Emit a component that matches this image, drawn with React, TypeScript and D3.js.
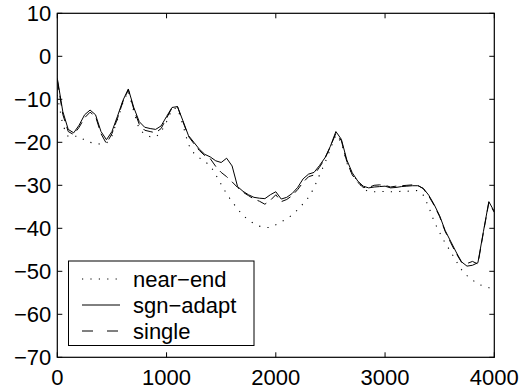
import React from "react";
import * as d3 from "d3";

const freqs = [
  0, 50, 100, 150, 200, 250, 300, 350, 400, 450, 500, 550, 600, 650, 700, 750, 800, 850, 900, 950,
  1000, 1050, 1100, 1150, 1200, 1250, 1300, 1350, 1400, 1450, 1500, 1550, 1600, 1650, 1700, 1750, 1800, 1850, 1900, 1950,
  2000, 2050, 2100, 2150, 2200, 2250, 2300, 2350, 2400, 2450, 2500, 2550, 2600, 2650, 2700, 2750, 2800, 2850, 2900, 2950,
  3000, 3050, 3100, 3150, 3200, 3250, 3300, 3350, 3400, 3450, 3500, 3550, 3600, 3650, 3700, 3750, 3800, 3850, 3900, 3950,
  4000,
];

const nearEnd = [
  -9.0, -16.0, -18.7, -18.6, -18.6, -19.5, -20.0, -20.3, -20.4, -20.2, -18.5, -14.8, -10.8, -8.0, -12.8, -17.0, -18.1, -18.7, -18.8, -17.6,
  -15.2, -12.3, -12.0, -16.0, -20.5, -22.5, -23.6, -24.5, -25.4, -27.5, -29.8, -32.0, -33.8, -35.5, -37.0, -38.1, -38.9, -39.5, -39.8, -39.8,
  -39.2, -38.5, -37.8, -36.9, -35.7, -34.3, -32.8, -30.6, -27.6, -24.8, -21.5, -18.3, -20.0, -24.8, -27.4, -29.0, -30.8, -31.5, -31.5, -31.5,
  -31.4, -31.5, -31.5, -31.4, -31.4, -31.3, -31.2, -32.3, -35.0, -38.5, -41.0, -43.4, -45.4, -47.6, -49.6, -51.0, -52.0, -53.0, -53.4, -53.8,
  -54.5,
];

const sgnAdapt = [
  -5.1, -12.8, -17.0, -17.8, -16.0, -13.6, -12.5, -13.6, -17.5, -19.4, -17.5, -14.0, -10.3, -7.6, -11.9, -15.2, -16.5, -16.8, -17.0, -16.2,
  -14.0, -11.9, -11.7, -15.0, -18.4, -20.0, -21.6, -22.8, -23.4, -24.3, -24.7, -23.7, -25.5, -30.3, -31.4, -32.2, -32.8, -33.0, -33.1, -32.2,
  -31.5, -33.2, -32.8, -31.9, -30.5, -28.5, -27.4, -27.0, -25.4, -23.6, -20.9, -17.5, -19.3, -24.1, -27.1, -29.0, -30.2, -30.6, -30.4, -30.3,
  -30.2, -30.6, -30.5, -30.3, -30.2, -30.1, -30.1, -30.7, -32.3, -34.5, -37.1, -40.5, -43.0, -45.5, -47.8, -48.8, -48.6, -48.0, -40.8, -33.8,
  -36.1,
];

const single = [
  -5.5, -13.5, -17.5, -18.2, -16.5, -14.3, -13.0, -14.0, -18.0, -20.3, -18.0, -14.5, -10.6, -7.8, -12.3, -15.8, -17.2, -17.5, -17.8, -16.8,
  -14.4, -12.0, -11.7, -15.2, -18.6, -20.3, -21.9, -23.1, -23.8, -25.6, -27.0, -28.0, -29.2, -30.5, -31.6, -32.4, -33.2, -33.7, -34.4, -33.5,
  -32.2, -33.8, -33.3, -32.4, -31.0, -29.3, -28.0, -27.6, -25.8, -23.8, -21.0, -17.9, -19.6, -24.5, -27.6, -29.3, -30.5, -30.5, -30.0, -29.9,
  -30.0, -30.4, -30.2, -30.1, -30.0, -29.9, -30.0, -30.8, -32.5, -34.7, -37.3, -40.7, -43.3, -45.8, -47.9, -48.2, -47.7, -48.3, -41.0, -34.0,
  -36.3,
];

const xTicks = [0, 1000, 2000, 3000, 4000];
const yTicks = [10, 0, -10, -20, -30, -40, -50, -60, -70];
const legendLabels = ["near\u2212end", "sgn\u2212adapt", "single"];

const W = 521;
const H = 392;
const FONT = "'Liberation Sans', Arial, Helvetica, sans-serif";

export default function App() {
  const x = d3.scaleLinear().domain([0, 4000]).range([57.3, 494.3]);
  const y = d3.scaleLinear().domain([-70, 10]).range([357.3, 13.3]);
  const [x0, x1] = x.range();
  const [y0, y1] = y.range();

  const line = d3
    .line<number>()
    .x((_, i) => x(freqs[i]))
    .y((d) => y(d));

  const series = [
    { data: nearEnd, dash: "1.2 7.2", width: 1.1 },
    { data: sgnAdapt, dash: undefined, width: 1 },
    { data: single, dash: "10 6", width: 1 },
  ];
  const legendDash = ["1.2 7.2", undefined, "11 14"];

  const tickLen = 5;
  const fs = 22;

  return (
    <svg
      width={W}
      height={H}
      style={{ position: "absolute", left: 0, top: 0, background: "#fff" }}
      fontFamily={FONT}
    >
      <rect x={0} y={0} width={W} height={H} fill="#fff" />
      <defs>
        <clipPath id="plotclip">
          <rect x={x0} y={y1} width={x1 - x0} height={y0 - y1} />
        </clipPath>
      </defs>
      <g clipPath="url(#plotclip)">
        {series.map((s, i) => (
          <path
            key={i}
            d={line(s.data) || ""}
            fill="none"
            stroke="#000"
            strokeWidth={s.width}
            strokeDasharray={s.dash}
          />
        ))}
      </g>
      {/* axes box */}
      <rect x={x0} y={y1} width={x1 - x0} height={y0 - y1} fill="none" stroke="#000" strokeWidth={1.2} />
      {/* x ticks */}
      {xTicks.map((t) => (
        <g key={"x" + t}>
          <line x1={x(t)} x2={x(t)} y1={y0} y2={y0 - tickLen} stroke="#000" />
          <line x1={x(t)} x2={x(t)} y1={y1} y2={y1 + tickLen} stroke="#000" />
          <text x={x(t)} y={y0 + 28} textAnchor="middle" fontSize={fs} fill="#000">
            {t}
          </text>
        </g>
      ))}
      {/* y ticks */}
      {yTicks.map((t) => (
        <g key={"y" + t}>
          <line x1={x0} x2={x0 + tickLen} y1={y(t)} y2={y(t)} stroke="#000" />
          <line x1={x1} x2={x1 - tickLen} y1={y(t)} y2={y(t)} stroke="#000" />
          <text x={x0 - 6} y={y(t) + 8} textAnchor="end" fontSize={fs} fill="#000">
            {t < 0 ? "\u2212" + Math.abs(t) : t}
          </text>
        </g>
      ))}
      {/* legend */}
      <rect x={68.5} y={261} width={185.5} height={84.5} fill="#fff" stroke="#000" strokeWidth={1} />
      {legendLabels.map((lab, i) => {
        const cy = 279 + i * 26;
        return (
          <g key={lab}>
            <line
              x1={82}
              x2={120}
              y1={cy}
              y2={cy}
              stroke="#000"
              strokeWidth={1}
              strokeDasharray={legendDash[i]}
            />
            <text x={133} y={cy + 8} fontSize={fs} fill="#000">
              {lab}
            </text>
          </g>
        );
      })}
    </svg>
  );
}
